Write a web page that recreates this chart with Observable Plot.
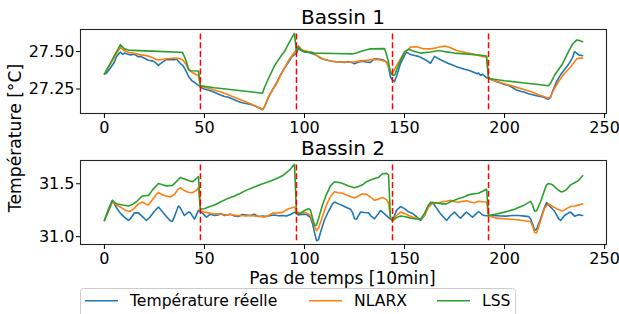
<!DOCTYPE html>
<html><head><meta charset="utf-8">
<script src="https://cdn.jsdelivr.net/npm/d3@7"></script>
<script src="https://cdn.jsdelivr.net/npm/@observablehq/plot@0.6"></script>
<style>
html,body{margin:0;padding:0;background:#fff;}
#wrap{position:relative;width:619px;height:314px;overflow:hidden;font-family:"DejaVu Sans",sans-serif;}
#wrap > svg{position:absolute;left:0;}
</style></head><body><div id="wrap"></div>
<script>
// ---- data ----
const seriesNames = ["Température réelle", "NLARX", "LSS"];
const seriesColors = ["#1f77b4", "#ff7f0e", "#2ca02c"];
const panelTitles = ["Bassin 1", "Bassin 2"];
const xTicks = [0, 50, 100, 150, 200, 250];
const yTicks1 = [27.25, 27.50];
const yTicks2 = [31.0, 31.5];
const splitSteps = [48, 96, 144, 192];
const xLabel = "Pas de temps [10min]";
const yLabel = "Température [°C]";

const b1Reel = [[0,27.350],[1,27.355],[3,27.39],[5,27.43],[6,27.465],[8,27.497],[9,27.482],[10,27.49],[11,27.485],[13,27.478],[15,27.482],[17,27.465],[18,27.468],[20,27.455],[22,27.442],[24,27.438],[25,27.432],[27,27.408],[28,27.42],[29,27.43],[31,27.446],[33,27.448],[35,27.445],[36,27.45],[37,27.435],[38,27.42],[39,27.41],[40,27.39],[41,27.365],[42,27.335],[43,27.316],[44,27.302],[45,27.295],[47,27.275],[48,27.262],[50,27.25],[53,27.238],[55,27.228],[58,27.21],[60,27.2],[62,27.195],[64,27.183],[66,27.172],[68,27.162],[70,27.155],[72,27.15],[74,27.143],[76,27.132],[78,27.12],[79,27.112],[80,27.13],[82,27.195],[84,27.245],[86,27.29],[88,27.345],[90,27.39],[92,27.43],[94,27.47],[96,27.49],[97,27.523],[98,27.51],[100,27.497],[102,27.495],[104,27.485],[106,27.475],[108,27.457],[110,27.447],[112,27.44],[114,27.436],[116,27.432],[118,27.43],[120,27.428],[122,27.433],[124,27.425],[125,27.419],[127,27.43],[129,27.436],[131,27.43],[133,27.428],[135,27.452],[137,27.45],[139,27.445],[141,27.43],[142,27.395],[143,27.33],[144,27.31],[145,27.3],[146,27.335],[148,27.42],[150,27.475],[151,27.496],[153,27.48],[155,27.474],[157,27.468],[159,27.455],[161,27.44],[163,27.422],[164,27.445],[165,27.468],[166,27.46],[168,27.445],[170,27.432],[172,27.42],[174,27.41],[176,27.398],[178,27.39],[180,27.382],[182,27.375],[184,27.365],[186,27.353],[187,27.356],[188,27.342],[189,27.348],[190,27.338],[191,27.325],[192,27.325],[194,27.31],[196,27.298],[198,27.29],[200,27.28],[202,27.273],[204,27.26],[206,27.243],[208,27.235],[210,27.228],[212,27.218],[214,27.212],[216,27.205],[218,27.2],[220,27.193],[221,27.185],[222,27.182],[223,27.195],[224,27.235],[226,27.3],[228,27.345],[230,27.38],[232,27.415],[234,27.46],[235,27.5],[236,27.49],[237,27.478],[238,27.475],[239,27.472]];
const b1Nlarx = [[0,27.35],[4,27.44],[8,27.529],[10,27.505],[12,27.495],[15,27.488],[18,27.478],[21,27.473],[24,27.46],[26,27.446],[28,27.445],[31,27.452],[34,27.456],[37,27.455],[39,27.445],[40,27.43],[41,27.41],[42,27.378],[44,27.36],[46,27.345],[47,27.34],[48,27.27],[52,27.255],[58,27.232],[64,27.2],[70,27.168],[75,27.14],[78,27.122],[79,27.116],[80,27.13],[82,27.2],[86,27.285],[89,27.364],[92,27.44],[95,27.495],[97,27.535],[99,27.51],[102,27.5],[104,27.496],[106,27.475],[109,27.452],[112,27.44],[114,27.434],[117,27.43],[120,27.43],[125,27.43],[128,27.438],[131,27.441],[134,27.448],[137,27.446],[139,27.44],[141,27.43],[142,27.397],[143,27.365],[144,27.362],[145,27.38],[147,27.43],[149,27.474],[151,27.505],[153,27.53],[156,27.532],[159,27.52],[163,27.518],[166,27.525],[170,27.537],[173,27.525],[176,27.507],[180,27.495],[184,27.483],[188,27.47],[191,27.462],[192,27.32],[196,27.302],[200,27.285],[205,27.266],[210,27.245],[213,27.233],[217,27.212],[220,27.198],[222,27.189],[223,27.2],[225,27.255],[227,27.3],[230,27.355],[233,27.397],[236,27.45],[238,27.458],[239,27.455]];
const b1Lss = [[0,27.35],[8,27.546],[10,27.518],[12,27.51],[20,27.505],[30,27.5],[38,27.496],[39,27.495],[40,27.465],[41,27.43],[42,27.385],[43,27.372],[47,27.37],[48,27.272],[55,27.258],[65,27.243],[75,27.228],[79,27.222],[80,27.26],[82,27.32],[85,27.405],[88,27.465],[90,27.5],[92,27.551],[94,27.6],[95,27.622],[96,27.495],[97,27.535],[98,27.51],[100,27.5],[105,27.49],[115,27.487],[124,27.485],[126,27.49],[128,27.5],[131,27.512],[133,27.518],[140,27.52],[141,27.48],[142,27.43],[143,27.36],[144,27.342],[145,27.342],[147,27.41],[150,27.5],[152,27.515],[155,27.5],[158,27.49],[163,27.497],[167,27.507],[170,27.5],[175,27.49],[180,27.485],[185,27.48],[190,27.472],[191,27.47],[192,27.32],[200,27.305],[210,27.29],[218,27.278],[222,27.272],[223,27.29],[225,27.342],[229,27.419],[231,27.474],[234,27.551],[236,27.577],[237,27.575],[239,27.566]];

const b2Reel = [[0,31.153],[2,31.26],[4,31.344],[6,31.275],[8,31.22],[10,31.185],[12,31.153],[13,31.17],[15,31.226],[17,31.225],[19,31.19],[21,31.153],[23,31.19],[25,31.24],[27,31.28],[29,31.235],[31,31.19],[33,31.148],[34,31.145],[35,31.19],[37,31.29],[38,31.27],[40,31.2],[42,31.232],[43,31.225],[45,31.166],[47,31.248],[48,31.235],[49,31.222],[51,31.185],[53,31.213],[55,31.2],[57,31.205],[58,31.22],[60,31.2],[62,31.208],[63,31.213],[65,31.195],[67,31.19],[69,31.21],[71,31.205],[73,31.2],[75,31.213],[77,31.19],[79,31.195],[81,31.19],[83,31.2],[85,31.205],[87,31.198],[89,31.2],[91,31.195],[93,31.21],[95,31.232],[97,31.205],[99,31.213],[101,31.21],[103,31.18],[104,31.125],[105,31.04],[106,30.962],[107,30.97],[108,31.04],[110,31.16],[112,31.24],[114,31.31],[115,31.328],[117,31.31],[119,31.295],[121,31.275],[123,31.26],[124,31.23],[125,31.17],[126,31.165],[128,31.233],[130,31.228],[132,31.226],[133,31.2],[135,31.169],[137,31.22],[138,31.248],[140,31.215],[142,31.18],[144,31.153],[146,31.248],[148,31.285],[150,31.265],[152,31.235],[154,31.22],[156,31.19],[158,31.153],[160,31.2],[162,31.29],[164,31.325],[166,31.27],[168,31.217],[171,31.153],[173,31.2],[175,31.232],[177,31.19],[178,31.175],[180,31.215],[181,31.232],[183,31.2],[184,31.185],[186,31.22],[187,31.238],[189,31.205],[190,31.2],[192,31.195],[195,31.2],[198,31.195],[201,31.194],[204,31.2],[207,31.2],[210,31.194],[212,31.19],[213,31.17],[214,31.12],[215,31.06],[216,31.07],[218,31.169],[220,31.28],[221,31.322],[223,31.28],[225,31.24],[227,31.17],[228,31.153],[230,31.2],[232,31.225],[233,31.232],[235,31.194],[237,31.207],[239,31.2]];
const b2Nlarx = [[0,31.153],[4,31.328],[6,31.3],[8,31.28],[10,31.255],[12,31.239],[13,31.24],[15,31.27],[17,31.31],[19,31.328],[21,31.305],[22,31.3],[24,31.35],[26,31.4],[27,31.417],[29,31.395],[31,31.385],[33,31.375],[35,31.4],[37,31.45],[38,31.462],[40,31.435],[42,31.42],[44,31.415],[46,31.44],[47,31.462],[48,31.245],[50,31.232],[53,31.22],[55,31.215],[58,31.215],[61,31.205],[63,31.21],[66,31.2],[68,31.2],[71,31.195],[73,31.2],[76,31.194],[78,31.19],[80,31.185],[82,31.2],[84,31.223],[87,31.225],[89,31.23],[92,31.264],[95,31.28],[96,31.232],[98,31.225],[100,31.23],[102,31.215],[103,31.2],[104,31.15],[106,31.057],[107,31.08],[109,31.19],[111,31.3],[113,31.38],[115,31.424],[117,31.415],[119,31.41],[121,31.395],[123,31.38],[125,31.366],[127,31.385],[129,31.405],[131,31.4],[133,31.375],[135,31.344],[137,31.355],[139,31.37],[141,31.35],[142,31.32],[143,31.17],[144,31.153],[146,31.2],[148,31.232],[150,31.22],[152,31.2],[154,31.185],[156,31.175],[158,31.166],[160,31.2],[162,31.28],[164,31.315],[167,31.32],[169,31.33],[171,31.335],[173,31.344],[175,31.33],[177,31.325],[179,31.335],[181,31.34],[183,31.328],[185,31.32],[187,31.335],[189,31.33],[191,31.328],[192,31.195],[196,31.175],[200,31.17],[205,31.162],[210,31.15],[213,31.143],[214,31.1],[215,31.04],[216,31.035],[218,31.15],[220,31.27],[222,31.312],[224,31.285],[226,31.265],[228,31.25],[229,31.242],[231,31.265],[233,31.285],[235,31.29],[237,31.298],[239,31.312]];
const b2Lss = [[0,31.153],[4,31.34],[6,31.312],[9,31.3],[12,31.29],[14,31.305],[16,31.33],[19,31.385],[22,31.39],[24,31.44],[27,31.503],[29,31.49],[31,31.48],[34,31.485],[36,31.52],[38,31.56],[40,31.545],[42,31.53],[44,31.519],[46,31.55],[47,31.567],[48,31.262],[50,31.264],[52,31.28],[55,31.3],[58,31.328],[61,31.355],[65,31.385],[68,31.41],[71,31.44],[75,31.47],[78,31.493],[82,31.519],[85,31.54],[87,31.557],[89,31.575],[91,31.605],[93,31.64],[95,31.684],[96,31.217],[98,31.22],[100,31.248],[102,31.264],[103,31.25],[104,31.18],[105,31.105],[106,31.11],[107,31.17],[109,31.3],[111,31.4],[113,31.48],[115,31.519],[118,31.51],[120,31.495],[122,31.48],[125,31.462],[127,31.475],[129,31.49],[131,31.52],[133,31.535],[135,31.55],[137,31.56],[139,31.595],[141,31.598],[142,31.585],[143,31.17],[144,31.15],[146,31.18],[148,31.195],[150,31.19],[152,31.18],[154,31.172],[156,31.168],[158,31.166],[160,31.22],[162,31.3],[163,31.324],[166,31.318],[169,31.31],[171,31.31],[173,31.33],[175,31.345],[177,31.36],[179,31.37],[181,31.388],[183,31.4],[185,31.405],[187,31.41],[189,31.43],[191,31.449],[192,31.2],[196,31.215],[200,31.232],[205,31.26],[210,31.3],[213,31.334],[214,31.3],[215,31.24],[216,31.245],[218,31.33],[220,31.44],[221,31.49],[222,31.503],[224,31.49],[226,31.455],[228,31.425],[229,31.424],[231,31.445],[233,31.49],[235,31.51],[237,31.53],[239,31.576]];

// ---- drawing ----
const wrap = document.getElementById("wrap");
const xDomain = [-11.95, 250.95];

function panel(series, yTicks, fmt, top, height, mTop, mBottom) {
  const all = series.flat();
  const ext = d3.extent(all, d => d[1]);
  const pad = (ext[1] - ext[0]) * 0.05;
  const marks = [];
  series.forEach((s, i) => {
    marks.push(Plot.line(s, {x: d => d[0], y: d => d[1], stroke: seriesColors[i], strokeWidth: 1.6}));
  });
  marks.push(Plot.ruleX(splitSteps, {x: d => d, y1: () => ext[0], y2: () => ext[1], stroke: "#ff0000", strokeWidth: 1.5, strokeDasharray: "6,2.7"}));
  marks.push(Plot.frame({stroke: "#262626", strokeWidth: 1.1}));
  marks.push(Plot.axisX({ticks: xTicks, tickSize: 5, tickPadding: 3.5, label: null, tickFormat: d3.format("d")}));
  marks.push(Plot.axisY({ticks: yTicks, tickSize: 4, tickPadding: 2, label: null, tickFormat: d3.format(fmt)}));
  const p = Plot.plot({
    width: 619, height, marginLeft: 80, marginRight: 13, marginTop: mTop, marginBottom: mBottom,
    x: {domain: xDomain},
    y: {domain: [ext[0] - pad, ext[1] + pad]},
    style: {fontFamily: "DejaVu Sans", fontSize: "16px", color: "#000", background: "transparent", overflow: "visible"},
    marks
  });
  p.style.position = "absolute";
  p.style.top = top + "px";
  wrap.appendChild(p);
}

panel([b1Reel, b1Nlarx, b1Lss], yTicks1, ".2f", 0, 138, 29, 25);
panel([b2Reel, b2Nlarx, b2Lss], yTicks2, ".1f", 138, 130, 22, 24);

// overlay for titles, axis labels and legend
const svg = d3.select(wrap).append("svg")
  .attr("width", 619).attr("height", 314)
  .style("position", "absolute").style("top", "0px").style("left", "0px")
  .style("font-family", "DejaVu Sans").style("overflow", "visible");

svg.append("text").attr("x", 343).attr("y", 24).attr("text-anchor", "middle")
  .attr("font-size", 20).attr("fill", "#000").text(panelTitles[0]);
svg.append("text").attr("x", 343).attr("y", 155).attr("text-anchor", "middle")
  .attr("font-size", 20).attr("fill", "#000").text(panelTitles[1]);
svg.append("text").attr("x", 342.5).attr("y", 284).attr("text-anchor", "middle")
  .attr("font-size", 17).attr("fill", "#000").text(xLabel);
svg.append("text").attr("transform", "translate(21,138) rotate(-90)").attr("text-anchor", "middle")
  .attr("font-size", 17.2).attr("fill", "#000").text(yLabel);

const lg = svg.append("g");
lg.append("rect").attr("x", 80.5).attr("y", 288.5).attr("width", 435).attr("height", 40).attr("rx", 3)
  .attr("fill", "#fff").attr("stroke", "#cccccc").attr("stroke-width", 1);
const lx = [85, 309, 437];
seriesNames.forEach((n, i) => {
  lg.append("line").attr("x1", lx[i]).attr("x2", lx[i] + 33).attr("y1", 300.7).attr("y2", 300.7)
    .attr("stroke", seriesColors[i]).attr("stroke-width", 1.6);
  lg.append("text").attr("x", lx[i] + 45).attr("y", 305.7).attr("font-size", 15.6).attr("fill", "#000").text(n);
});
</script></body></html>
